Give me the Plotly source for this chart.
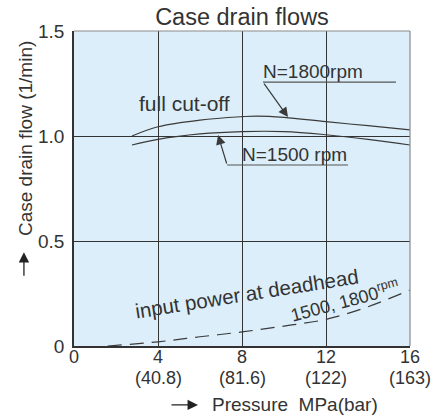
import plotly.graph_objects as go

# ---- data ----
p1800 = [2.76, 4, 6, 8, 8.7, 10, 12, 14, 16]
q1800 = [1.0, 1.044, 1.076, 1.092, 1.095, 1.089, 1.068, 1.049, 1.029]

p1500 = [2.76, 4, 6, 8, 10, 12, 14, 16]
q1500 = [0.957, 0.984, 1.01, 1.021, 1.021, 1.006, 0.984, 0.957]

p_dead = [1.6, 4, 6, 8, 10, 12, 14, 16]
q_dead = [0.0, 0.02, 0.044, 0.067, 0.095, 0.127, 0.187, 0.267]

x_tickvals = [0, 4, 8, 12, 16]
x_ticktext = ["0", "4", "8", "12", "16"]
x_ticktext_bar = ["", "(40.8)", "(81.6)", "(122)", "(163)"]
y_tickvals = [0, 0.5, 1.0, 1.5]
y_ticktext = ["0", "0.5", "1.0", "1.5"]

FONT = "Liberation Sans, Arial, sans-serif"
TXT = "#333333"
LINE = "#3a3a3a"

fig = go.Figure()
fig.add_trace(go.Scatter(x=p1800, y=q1800, mode="lines",
                         line=dict(color=LINE, width=1.2, shape="spline"),
                         showlegend=False, hoverinfo="skip"))
fig.add_trace(go.Scatter(x=p1500, y=q1500, mode="lines",
                         line=dict(color=LINE, width=1.2, shape="spline"),
                         showlegend=False, hoverinfo="skip"))
fig.add_trace(go.Scatter(x=p_dead, y=q_dead, mode="lines",
                         line=dict(color=LINE, width=1.2, shape="spline", dash="14px,8px"),
                         showlegend=False, hoverinfo="skip"))

ann = []
# x tick labels (two lines)
for xv, t1, t2 in zip(x_tickvals, x_ticktext, x_ticktext_bar):
    ann.append(dict(x=xv, y=-0.036, xref="x", yref="paper", text=t1, showarrow=False,
                    xanchor="center", yanchor="middle", font=dict(size=18, color=TXT, family=FONT)))
    if t2:
        ann.append(dict(x=xv, y=-0.102, xref="x", yref="paper", text=t2, showarrow=False,
                        xanchor="center", yanchor="middle", font=dict(size=18, color=TXT, family=FONT)))
# leader arrows
ann.append(dict(x=10.19, y=1.09, ax=9.0, ay=1.257, xref="x", yref="y", axref="x", ayref="y",
                text="", showarrow=True, arrowhead=2, arrowsize=1.6, arrowwidth=1.2, arrowcolor=LINE))
ann.append(dict(x=6.86, y=1.005, ax=7.29, ay=0.862, xref="x", yref="y", axref="x", ayref="y",
                text="", showarrow=True, arrowhead=2, arrowsize=1.6, arrowwidth=1.2, arrowcolor=LINE))
# labels
ann.append(dict(x=11.38, y=1.305, xref="x", yref="y", text="N=1800rpm", showarrow=False,
                xanchor="center", yanchor="middle", font=dict(size=19, color=TXT, family=FONT)))
ann.append(dict(x=10.52, y=0.91, xref="x", yref="y", text="N=1500 rpm", showarrow=False,
                xanchor="center", yanchor="middle", font=dict(size=19, color=TXT, family=FONT)))
ann.append(dict(x=5.24, y=1.157, xref="x", yref="y", text="full cut-off", showarrow=False,
                xanchor="center", yanchor="middle", font=dict(size=21, color=TXT, family=FONT)))
ann.append(dict(x=8.24, y=0.248, xref="x", yref="y", text="input power at deadhead", showarrow=False,
                xanchor="center", yanchor="middle",
                textangle=-9, font=dict(size=20.5, color=TXT, family=FONT)))
ann.append(dict(x=12.9, y=0.215, xref="x", yref="y", text="1500, 1800<sup>rpm</sup>", showarrow=False,
                xanchor="center", yanchor="middle",
                textangle=-15, font=dict(size=18, color=TXT, family=FONT)))
# axis titles
ann.append(dict(x=-0.146, y=0.66, xref="paper", yref="paper", text="Case drain flow (1/min)",
                xanchor="center", yanchor="middle",
                showarrow=False, textangle=-90, font=dict(size=19, color=TXT, family=FONT)))
ann.append(dict(x=-0.149, y=0.298, xref="paper", yref="paper", text="", showarrow=True,
                ax=0, ay=25, arrowhead=2, arrowsize=1.6, arrowwidth=1.3, arrowcolor="#222"))
ann.append(dict(x=0.658, y=-0.187, xref="paper", yref="paper", text="Pressure  MPa(bar)",
                xanchor="center", yanchor="middle",
                showarrow=False, font=dict(size=19, color=TXT, family=FONT)))
ann.append(dict(x=0.369, y=-0.187, xref="paper", yref="paper", text="", showarrow=True,
                ax=-28, ay=0, arrowhead=2, arrowsize=1.6, arrowwidth=1.3, arrowcolor="#222"))

shapes = [
    dict(type="line", xref="x", yref="y", x0=9.0, y0=1.257, x1=15.33, y1=1.257,
         line=dict(color="#555", width=1.2)),
    dict(type="line", xref="x", yref="y", x0=7.29, y0=0.862, x1=13.05, y1=0.862,
         line=dict(color="#555", width=1.2)),
    dict(type="line", xref="paper", yref="paper", x0=0, y0=1, x1=1, y1=1,
         line=dict(color="#8a8a8a", width=1.2)),
    dict(type="line", xref="paper", yref="paper", x0=1, y0=0, x1=1, y1=1,
         line=dict(color="#8a8a8a", width=1.2)),
]

fig.update_layout(
    width=435, height=417,
    margin=dict(l=74, r=25, t=31, b=71, autoexpand=False),
    paper_bgcolor="white", plot_bgcolor="#dbeef9",
    title=dict(text="Case drain flows", x=0.5, xref="paper", y=1 - 17 / 417, yref="container",
               xanchor="center", yanchor="middle", font=dict(size=23.5, color=TXT, family=FONT)),
    font=dict(family=FONT, color=TXT),
    annotations=ann, shapes=shapes,
    xaxis=dict(range=[0, 16], tickvals=x_tickvals, showticklabels=False,
               showgrid=True, gridcolor="#333", gridwidth=1, zeroline=False,
               showline=True, linecolor="#333", linewidth=1.5,
               ticks="", fixedrange=True, automargin=False),
    yaxis=dict(range=[0, 1.5], tickvals=y_tickvals, ticktext=y_ticktext,
               showgrid=True, gridcolor="#333", gridwidth=1, zeroline=False,
               showline=True, linecolor="#333", linewidth=1.5, ticklabelstandoff=4,
               tickfont=dict(size=19, color=TXT, family=FONT), ticks="", fixedrange=True,
               automargin=False),
)

fig.write_html("out.html", config={"displayModeBar": False},
               post_script="document.body.style.margin='0px';document.body.style.overflow='hidden';")
